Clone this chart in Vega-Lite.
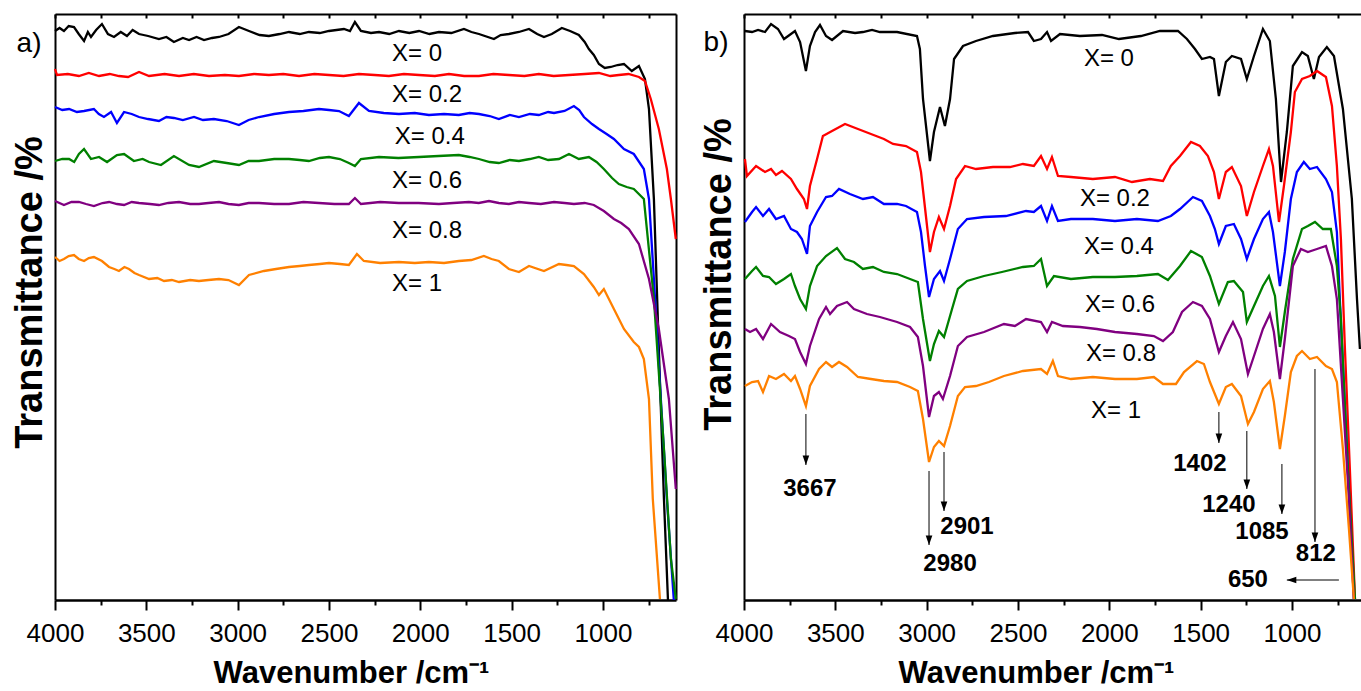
{
"$schema": "https://vega.github.io/schema/vega-lite/v6.json",
"padding": {"left": 11, "top": 13, "right": 0, "bottom": 0},
"spacing": 19,
"config": {"view": {"stroke": null}, "font": "Liberation Sans", "axis": {"grid": false, "domainColor": "black", "tickColor": "black", "labelColor": "black", "titleColor": "black"}},
"datasets": {
"a": [
{"s":"0","wn":4000,"t":569},{"s":"0","wn":3975,"t":572},{"s":"0","wn":3951,"t":569},{"s":"0","wn":3925,"t":574},{"s":"0","wn":3896,"t":573},{"s":"0","wn":3870,"t":566},{"s":"0","wn":3841,"t":559},{"s":"0","wn":3820,"t":568},{"s":"0","wn":3803,"t":563},{"s":"0","wn":3775,"t":570},{"s":"0","wn":3743,"t":576},{"s":"0","wn":3710,"t":566},{"s":"0","wn":3677,"t":563},{"s":"0","wn":3640,"t":568},{"s":"0","wn":3606,"t":564},{"s":"0","wn":3575,"t":570},{"s":"0","wn":3540,"t":566},{"s":"0","wn":3490,"t":564},{"s":"0","wn":3431,"t":561},{"s":"0","wn":3390,"t":563},{"s":"0","wn":3349,"t":558},{"s":"0","wn":3300,"t":562},{"s":"0","wn":3266,"t":560},{"s":"0","wn":3225,"t":563},{"s":"0","wn":3184,"t":560},{"s":"0","wn":3140,"t":562},{"s":"0","wn":3102,"t":563},{"s":"0","wn":3050,"t":566},{"s":"0","wn":2993,"t":573},{"s":"0","wn":2938,"t":569},{"s":"0","wn":2880,"t":565},{"s":"0","wn":2829,"t":564},{"s":"0","wn":2770,"t":566},{"s":"0","wn":2719,"t":568},{"s":"0","wn":2660,"t":566},{"s":"0","wn":2610,"t":568},{"s":"0","wn":2550,"t":567},{"s":"0","wn":2500,"t":569},{"s":"0","wn":2418,"t":571},{"s":"0","wn":2385,"t":569},{"s":"0","wn":2358,"t":578},{"s":"0","wn":2325,"t":569},{"s":"0","wn":2270,"t":567},{"s":"0","wn":2226,"t":568},{"s":"0","wn":2170,"t":566},{"s":"0","wn":2117,"t":569},{"s":"0","wn":2060,"t":567},{"s":"0","wn":2007,"t":569},{"s":"0","wn":1950,"t":566},{"s":"0","wn":1898,"t":568},{"s":"0","wn":1830,"t":567},{"s":"0","wn":1761,"t":571},{"s":"0","wn":1720,"t":568},{"s":"0","wn":1679,"t":566},{"s":"0","wn":1597,"t":561},{"s":"0","wn":1560,"t":565},{"s":"0","wn":1515,"t":566},{"s":"0","wn":1460,"t":568},{"s":"0","wn":1405,"t":571},{"s":"0","wn":1360,"t":566},{"s":"0","wn":1323,"t":563},{"s":"0","wn":1280,"t":566},{"s":"0","wn":1225,"t":572},{"s":"0","wn":1180,"t":569},{"s":"0","wn":1132,"t":565},{"s":"0","wn":1100,"t":558},{"s":"0","wn":1077,"t":551},{"s":"0","wn":1050,"t":545},{"s":"0","wn":1022,"t":536},{"s":"0","wn":990,"t":532},{"s":"0","wn":957,"t":533},{"s":"0","wn":920,"t":535},{"s":"0","wn":885,"t":536},{"s":"0","wn":842,"t":529},{"s":"0","wn":803,"t":534},{"s":"0","wn":770,"t":521},{"s":"0","wn":748,"t":491},{"s":"0","wn":721,"t":401},{"s":"0","wn":694,"t":251},{"s":"0","wn":666,"t":101},{"s":"0","wn":644,"t":0},
{"s":"0.2","wn":4000,"t":531},{"s":"0.2","wn":3989,"t":525},{"s":"0.2","wn":3930,"t":526},{"s":"0.2","wn":3869,"t":524},{"s":"0.2","wn":3815,"t":527},{"s":"0.2","wn":3759,"t":524},{"s":"0.2","wn":3700,"t":526},{"s":"0.2","wn":3650,"t":524},{"s":"0.2","wn":3600,"t":523},{"s":"0.2","wn":3540,"t":528},{"s":"0.2","wn":3485,"t":524},{"s":"0.2","wn":3400,"t":526},{"s":"0.2","wn":3321,"t":524},{"s":"0.2","wn":3240,"t":526},{"s":"0.2","wn":3157,"t":524},{"s":"0.2","wn":3070,"t":525},{"s":"0.2","wn":2993,"t":524},{"s":"0.2","wn":2910,"t":526},{"s":"0.2","wn":2829,"t":525},{"s":"0.2","wn":2750,"t":526},{"s":"0.2","wn":2664,"t":524},{"s":"0.2","wn":2580,"t":526},{"s":"0.2","wn":2500,"t":525},{"s":"0.2","wn":2420,"t":524},{"s":"0.2","wn":2336,"t":526},{"s":"0.2","wn":2250,"t":525},{"s":"0.2","wn":2172,"t":524},{"s":"0.2","wn":2090,"t":526},{"s":"0.2","wn":2007,"t":525},{"s":"0.2","wn":1920,"t":524},{"s":"0.2","wn":1843,"t":526},{"s":"0.2","wn":1760,"t":524},{"s":"0.2","wn":1679,"t":524},{"s":"0.2","wn":1600,"t":526},{"s":"0.2","wn":1515,"t":525},{"s":"0.2","wn":1430,"t":524},{"s":"0.2","wn":1351,"t":526},{"s":"0.2","wn":1270,"t":524},{"s":"0.2","wn":1186,"t":525},{"s":"0.2","wn":1100,"t":526},{"s":"0.2","wn":1022,"t":527},{"s":"0.2","wn":960,"t":524},{"s":"0.2","wn":913,"t":525},{"s":"0.2","wn":860,"t":526},{"s":"0.2","wn":803,"t":523},{"s":"0.2","wn":770,"t":519},{"s":"0.2","wn":738,"t":501},{"s":"0.2","wn":694,"t":471},{"s":"0.2","wn":650,"t":431},{"s":"0.2","wn":628,"t":401},{"s":"0.2","wn":601,"t":361},
{"s":"0.4","wn":4000,"t":493},{"s":"0.4","wn":3960,"t":490},{"s":"0.4","wn":3923,"t":491},{"s":"0.4","wn":3880,"t":488},{"s":"0.4","wn":3841,"t":489},{"s":"0.4","wn":3787,"t":491},{"s":"0.4","wn":3760,"t":486},{"s":"0.4","wn":3732,"t":483},{"s":"0.4","wn":3693,"t":488},{"s":"0.4","wn":3661,"t":477},{"s":"0.4","wn":3622,"t":488},{"s":"0.4","wn":3580,"t":486},{"s":"0.4","wn":3540,"t":483},{"s":"0.4","wn":3490,"t":481},{"s":"0.4","wn":3431,"t":479},{"s":"0.4","wn":3390,"t":483},{"s":"0.4","wn":3349,"t":482},{"s":"0.4","wn":3300,"t":480},{"s":"0.4","wn":3239,"t":483},{"s":"0.4","wn":3190,"t":480},{"s":"0.4","wn":3130,"t":481},{"s":"0.4","wn":3060,"t":479},{"s":"0.4","wn":2993,"t":475},{"s":"0.4","wn":2940,"t":480},{"s":"0.4","wn":2883,"t":483},{"s":"0.4","wn":2800,"t":486},{"s":"0.4","wn":2719,"t":488},{"s":"0.4","wn":2640,"t":489},{"s":"0.4","wn":2555,"t":491},{"s":"0.4","wn":2500,"t":490},{"s":"0.4","wn":2445,"t":489},{"s":"0.4","wn":2391,"t":484},{"s":"0.4","wn":2336,"t":497},{"s":"0.4","wn":2281,"t":489},{"s":"0.4","wn":2200,"t":487},{"s":"0.4","wn":2117,"t":486},{"s":"0.4","wn":2030,"t":487},{"s":"0.4","wn":1953,"t":485},{"s":"0.4","wn":1870,"t":486},{"s":"0.4","wn":1789,"t":485},{"s":"0.4","wn":1730,"t":487},{"s":"0.4","wn":1679,"t":486},{"s":"0.4","wn":1620,"t":484},{"s":"0.4","wn":1570,"t":481},{"s":"0.4","wn":1510,"t":485},{"s":"0.4","wn":1460,"t":483},{"s":"0.4","wn":1400,"t":486},{"s":"0.4","wn":1351,"t":485},{"s":"0.4","wn":1300,"t":488},{"s":"0.4","wn":1268,"t":487},{"s":"0.4","wn":1210,"t":489},{"s":"0.4","wn":1159,"t":494},{"s":"0.4","wn":1130,"t":490},{"s":"0.4","wn":1104,"t":483},{"s":"0.4","wn":1060,"t":476},{"s":"0.4","wn":1022,"t":471},{"s":"0.4","wn":980,"t":466},{"s":"0.4","wn":940,"t":461},{"s":"0.4","wn":885,"t":451},{"s":"0.4","wn":831,"t":446},{"s":"0.4","wn":776,"t":431},{"s":"0.4","wn":748,"t":401},{"s":"0.4","wn":721,"t":321},{"s":"0.4","wn":683,"t":201},{"s":"0.4","wn":650,"t":101},{"s":"0.4","wn":612,"t":0},
{"s":"0.6","wn":4000,"t":439},{"s":"0.6","wn":3960,"t":441},{"s":"0.6","wn":3923,"t":441},{"s":"0.6","wn":3895,"t":438},{"s":"0.6","wn":3869,"t":446},{"s":"0.6","wn":3841,"t":451},{"s":"0.6","wn":3803,"t":441},{"s":"0.6","wn":3759,"t":443},{"s":"0.6","wn":3715,"t":438},{"s":"0.6","wn":3661,"t":445},{"s":"0.6","wn":3622,"t":446},{"s":"0.6","wn":3568,"t":439},{"s":"0.6","wn":3520,"t":441},{"s":"0.6","wn":3485,"t":438},{"s":"0.6","wn":3420,"t":435},{"s":"0.6","wn":3349,"t":444},{"s":"0.6","wn":3266,"t":435},{"s":"0.6","wn":3212,"t":433},{"s":"0.6","wn":3130,"t":439},{"s":"0.6","wn":3060,"t":437},{"s":"0.6","wn":2993,"t":435},{"s":"0.6","wn":2940,"t":439},{"s":"0.6","wn":2883,"t":439},{"s":"0.6","wn":2800,"t":441},{"s":"0.6","wn":2719,"t":441},{"s":"0.6","wn":2660,"t":440},{"s":"0.6","wn":2610,"t":439},{"s":"0.6","wn":2550,"t":442},{"s":"0.6","wn":2500,"t":443},{"s":"0.6","wn":2440,"t":441},{"s":"0.6","wn":2391,"t":437},{"s":"0.6","wn":2358,"t":434},{"s":"0.6","wn":2325,"t":441},{"s":"0.6","wn":2226,"t":443},{"s":"0.6","wn":2120,"t":442},{"s":"0.6","wn":2007,"t":443},{"s":"0.6","wn":1900,"t":444},{"s":"0.6","wn":1789,"t":445},{"s":"0.6","wn":1730,"t":443},{"s":"0.6","wn":1679,"t":441},{"s":"0.6","wn":1620,"t":438},{"s":"0.6","wn":1570,"t":437},{"s":"0.6","wn":1510,"t":440},{"s":"0.6","wn":1460,"t":439},{"s":"0.6","wn":1400,"t":441},{"s":"0.6","wn":1351,"t":443},{"s":"0.6","wn":1300,"t":440},{"s":"0.6","wn":1241,"t":441},{"s":"0.6","wn":1186,"t":446},{"s":"0.6","wn":1132,"t":441},{"s":"0.6","wn":1077,"t":443},{"s":"0.6","wn":1035,"t":438},{"s":"0.6","wn":995,"t":431},{"s":"0.6","wn":950,"t":422},{"s":"0.6","wn":913,"t":416},{"s":"0.6","wn":870,"t":413},{"s":"0.6","wn":831,"t":411},{"s":"0.6","wn":776,"t":401},{"s":"0.6","wn":721,"t":301},{"s":"0.6","wn":666,"t":151},{"s":"0.6","wn":628,"t":41},{"s":"0.6","wn":601,"t":1},
{"s":"0.8","wn":4000,"t":399},{"s":"0.8","wn":3951,"t":395},{"s":"0.8","wn":3910,"t":398},{"s":"0.8","wn":3869,"t":398},{"s":"0.8","wn":3830,"t":396},{"s":"0.8","wn":3787,"t":394},{"s":"0.8","wn":3740,"t":397},{"s":"0.8","wn":3704,"t":398},{"s":"0.8","wn":3660,"t":396},{"s":"0.8","wn":3622,"t":395},{"s":"0.8","wn":3580,"t":398},{"s":"0.8","wn":3540,"t":397},{"s":"0.8","wn":3480,"t":396},{"s":"0.8","wn":3431,"t":395},{"s":"0.8","wn":3380,"t":397},{"s":"0.8","wn":3321,"t":398},{"s":"0.8","wn":3260,"t":396},{"s":"0.8","wn":3212,"t":396},{"s":"0.8","wn":3160,"t":397},{"s":"0.8","wn":3102,"t":398},{"s":"0.8","wn":3050,"t":396},{"s":"0.8","wn":2993,"t":395},{"s":"0.8","wn":2940,"t":397},{"s":"0.8","wn":2883,"t":397},{"s":"0.8","wn":2800,"t":396},{"s":"0.8","wn":2719,"t":396},{"s":"0.8","wn":2640,"t":398},{"s":"0.8","wn":2555,"t":397},{"s":"0.8","wn":2470,"t":396},{"s":"0.8","wn":2391,"t":396},{"s":"0.8","wn":2358,"t":402},{"s":"0.8","wn":2325,"t":396},{"s":"0.8","wn":2220,"t":398},{"s":"0.8","wn":2117,"t":397},{"s":"0.8","wn":2010,"t":397},{"s":"0.8","wn":1898,"t":396},{"s":"0.8","wn":1820,"t":397},{"s":"0.8","wn":1734,"t":398},{"s":"0.8","wn":1680,"t":397},{"s":"0.8","wn":1624,"t":399},{"s":"0.8","wn":1570,"t":397},{"s":"0.8","wn":1515,"t":396},{"s":"0.8","wn":1460,"t":398},{"s":"0.8","wn":1405,"t":397},{"s":"0.8","wn":1340,"t":396},{"s":"0.8","wn":1268,"t":398},{"s":"0.8","wn":1210,"t":397},{"s":"0.8","wn":1159,"t":396},{"s":"0.8","wn":1100,"t":397},{"s":"0.8","wn":1050,"t":395},{"s":"0.8","wn":995,"t":389},{"s":"0.8","wn":940,"t":381},{"s":"0.8","wn":900,"t":377},{"s":"0.8","wn":858,"t":371},{"s":"0.8","wn":803,"t":356},{"s":"0.8","wn":748,"t":321},{"s":"0.8","wn":694,"t":271},{"s":"0.8","wn":639,"t":201},{"s":"0.8","wn":601,"t":111},
{"s":"1","wn":4000,"t":343},{"s":"1","wn":3975,"t":339},{"s":"1","wn":3951,"t":341},{"s":"1","wn":3925,"t":344},{"s":"1","wn":3896,"t":345},{"s":"1","wn":3870,"t":341},{"s":"1","wn":3841,"t":339},{"s":"1","wn":3815,"t":342},{"s":"1","wn":3787,"t":343},{"s":"1","wn":3743,"t":339},{"s":"1","wn":3704,"t":333},{"s":"1","wn":3675,"t":331},{"s":"1","wn":3650,"t":329},{"s":"1","wn":3620,"t":333},{"s":"1","wn":3595,"t":331},{"s":"1","wn":3565,"t":327},{"s":"1","wn":3540,"t":325},{"s":"1","wn":3485,"t":321},{"s":"1","wn":3440,"t":322},{"s":"1","wn":3403,"t":319},{"s":"1","wn":3360,"t":320},{"s":"1","wn":3321,"t":318},{"s":"1","wn":3260,"t":320},{"s":"1","wn":3212,"t":319},{"s":"1","wn":3160,"t":320},{"s":"1","wn":3102,"t":321},{"s":"1","wn":3050,"t":320},{"s":"1","wn":2993,"t":315},{"s":"1","wn":2938,"t":325},{"s":"1","wn":2856,"t":329},{"s":"1","wn":2790,"t":331},{"s":"1","wn":2719,"t":333},{"s":"1","wn":2660,"t":334},{"s":"1","wn":2610,"t":335},{"s":"1","wn":2550,"t":336},{"s":"1","wn":2500,"t":337},{"s":"1","wn":2440,"t":336},{"s":"1","wn":2391,"t":335},{"s":"1","wn":2347,"t":346},{"s":"1","wn":2309,"t":339},{"s":"1","wn":2220,"t":337},{"s":"1","wn":2117,"t":338},{"s":"1","wn":2030,"t":337},{"s":"1","wn":1953,"t":338},{"s":"1","wn":1870,"t":337},{"s":"1","wn":1789,"t":339},{"s":"1","wn":1720,"t":340},{"s":"1","wn":1652,"t":344},{"s":"1","wn":1610,"t":341},{"s":"1","wn":1570,"t":339},{"s":"1","wn":1515,"t":331},{"s":"1","wn":1460,"t":328},{"s":"1","wn":1405,"t":334},{"s":"1","wn":1323,"t":329},{"s":"1","wn":1241,"t":336},{"s":"1","wn":1200,"t":335},{"s":"1","wn":1159,"t":334},{"s":"1","wn":1104,"t":326},{"s":"1","wn":1050,"t":313},{"s":"1","wn":1022,"t":305},{"s":"1","wn":995,"t":311},{"s":"1","wn":940,"t":291},{"s":"1","wn":885,"t":271},{"s":"1","wn":831,"t":258},{"s":"1","wn":803,"t":253},{"s":"1","wn":776,"t":241},{"s":"1","wn":748,"t":201},{"s":"1","wn":727,"t":101},{"s":"1","wn":688,"t":1}
],
"b": [
{"s":"0","wn":3995,"t":569},{"s":"0","wn":3956,"t":568},{"s":"0","wn":3923,"t":570},{"s":"0","wn":3885,"t":568},{"s":"0","wn":3852,"t":576},{"s":"0","wn":3814,"t":571},{"s":"0","wn":3781,"t":561},{"s":"0","wn":3743,"t":566},{"s":"0","wn":3721,"t":569},{"s":"0","wn":3693,"t":558},{"s":"0","wn":3661,"t":529},{"s":"0","wn":3639,"t":554},{"s":"0","wn":3611,"t":568},{"s":"0","wn":3584,"t":575},{"s":"0","wn":3551,"t":564},{"s":"0","wn":3518,"t":560},{"s":"0","wn":3458,"t":569},{"s":"0","wn":3392,"t":567},{"s":"0","wn":3349,"t":568},{"s":"0","wn":3299,"t":570},{"s":"0","wn":3256,"t":568},{"s":"0","wn":3162,"t":568},{"s":"0","wn":3053,"t":564},{"s":"0","wn":3037,"t":551},{"s":"0","wn":3020,"t":501},{"s":"0","wn":2982,"t":439},{"s":"0","wn":2960,"t":468},{"s":"0","wn":2927,"t":493},{"s":"0","wn":2900,"t":474},{"s":"0","wn":2872,"t":501},{"s":"0","wn":2850,"t":541},{"s":"0","wn":2801,"t":554},{"s":"0","wn":2730,"t":559},{"s":"0","wn":2637,"t":564},{"s":"0","wn":2517,"t":567},{"s":"0","wn":2445,"t":568},{"s":"0","wn":2413,"t":559},{"s":"0","wn":2374,"t":561},{"s":"0","wn":2341,"t":568},{"s":"0","wn":2319,"t":559},{"s":"0","wn":2270,"t":566},{"s":"0","wn":2161,"t":564},{"s":"0","wn":2040,"t":565},{"s":"0","wn":1947,"t":561},{"s":"0","wn":1827,"t":564},{"s":"0","wn":1723,"t":569},{"s":"0","wn":1624,"t":569},{"s":"0","wn":1575,"t":561},{"s":"0","wn":1531,"t":551},{"s":"0","wn":1493,"t":541},{"s":"0","wn":1449,"t":543},{"s":"0","wn":1427,"t":541},{"s":"0","wn":1400,"t":504},{"s":"0","wn":1362,"t":538},{"s":"0","wn":1329,"t":544},{"s":"0","wn":1279,"t":541},{"s":"0","wn":1247,"t":521},{"s":"0","wn":1208,"t":544},{"s":"0","wn":1159,"t":571},{"s":"0","wn":1121,"t":559},{"s":"0","wn":1088,"t":501},{"s":"0","wn":1060,"t":418},{"s":"0","wn":1028,"t":468},{"s":"0","wn":995,"t":534},{"s":"0","wn":945,"t":548},{"s":"0","wn":913,"t":544},{"s":"0","wn":880,"t":521},{"s":"0","wn":852,"t":543},{"s":"0","wn":809,"t":553},{"s":"0","wn":770,"t":544},{"s":"0","wn":721,"t":491},{"s":"0","wn":672,"t":401},{"s":"0","wn":644,"t":301},{"s":"0","wn":628,"t":251},
{"s":"0.2","wn":3995,"t":441},{"s":"0.2","wn":3984,"t":424},{"s":"0.2","wn":3934,"t":434},{"s":"0.2","wn":3885,"t":428},{"s":"0.2","wn":3852,"t":431},{"s":"0.2","wn":3825,"t":425},{"s":"0.2","wn":3792,"t":429},{"s":"0.2","wn":3743,"t":421},{"s":"0.2","wn":3710,"t":411},{"s":"0.2","wn":3672,"t":401},{"s":"0.2","wn":3655,"t":391},{"s":"0.2","wn":3639,"t":414},{"s":"0.2","wn":3600,"t":441},{"s":"0.2","wn":3568,"t":464},{"s":"0.2","wn":3518,"t":469},{"s":"0.2","wn":3447,"t":476},{"s":"0.2","wn":3376,"t":471},{"s":"0.2","wn":3305,"t":466},{"s":"0.2","wn":3234,"t":461},{"s":"0.2","wn":3184,"t":456},{"s":"0.2","wn":3113,"t":454},{"s":"0.2","wn":3053,"t":448},{"s":"0.2","wn":3031,"t":428},{"s":"0.2","wn":3004,"t":384},{"s":"0.2","wn":2982,"t":348},{"s":"0.2","wn":2960,"t":368},{"s":"0.2","wn":2933,"t":383},{"s":"0.2","wn":2905,"t":371},{"s":"0.2","wn":2872,"t":394},{"s":"0.2","wn":2839,"t":421},{"s":"0.2","wn":2790,"t":434},{"s":"0.2","wn":2730,"t":431},{"s":"0.2","wn":2637,"t":433},{"s":"0.2","wn":2544,"t":433},{"s":"0.2","wn":2473,"t":436},{"s":"0.2","wn":2413,"t":434},{"s":"0.2","wn":2374,"t":444},{"s":"0.2","wn":2341,"t":431},{"s":"0.2","wn":2314,"t":443},{"s":"0.2","wn":2281,"t":424},{"s":"0.2","wn":2210,"t":423},{"s":"0.2","wn":2090,"t":421},{"s":"0.2","wn":1969,"t":423},{"s":"0.2","wn":1876,"t":418},{"s":"0.2","wn":1778,"t":421},{"s":"0.2","wn":1706,"t":419},{"s":"0.2","wn":1663,"t":434},{"s":"0.2","wn":1613,"t":444},{"s":"0.2","wn":1553,"t":458},{"s":"0.2","wn":1504,"t":454},{"s":"0.2","wn":1460,"t":444},{"s":"0.2","wn":1427,"t":428},{"s":"0.2","wn":1400,"t":401},{"s":"0.2","wn":1362,"t":428},{"s":"0.2","wn":1329,"t":433},{"s":"0.2","wn":1279,"t":414},{"s":"0.2","wn":1247,"t":384},{"s":"0.2","wn":1208,"t":408},{"s":"0.2","wn":1159,"t":434},{"s":"0.2","wn":1126,"t":451},{"s":"0.2","wn":1104,"t":434},{"s":"0.2","wn":1071,"t":378},{"s":"0.2","wn":1044,"t":414},{"s":"0.2","wn":1006,"t":468},{"s":"0.2","wn":984,"t":508},{"s":"0.2","wn":945,"t":521},{"s":"0.2","wn":902,"t":524},{"s":"0.2","wn":863,"t":529},{"s":"0.2","wn":814,"t":523},{"s":"0.2","wn":781,"t":494},{"s":"0.2","wn":754,"t":434},{"s":"0.2","wn":732,"t":361},{"s":"0.2","wn":710,"t":251},{"s":"0.2","wn":683,"t":131},{"s":"0.2","wn":655,"t":1},
{"s":"0.4","wn":3995,"t":378},{"s":"0.4","wn":3956,"t":388},{"s":"0.4","wn":3934,"t":393},{"s":"0.4","wn":3896,"t":384},{"s":"0.4","wn":3863,"t":391},{"s":"0.4","wn":3825,"t":381},{"s":"0.4","wn":3781,"t":384},{"s":"0.4","wn":3743,"t":371},{"s":"0.4","wn":3710,"t":368},{"s":"0.4","wn":3683,"t":361},{"s":"0.4","wn":3655,"t":346},{"s":"0.4","wn":3639,"t":374},{"s":"0.4","wn":3600,"t":388},{"s":"0.4","wn":3551,"t":403},{"s":"0.4","wn":3518,"t":404},{"s":"0.4","wn":3480,"t":411},{"s":"0.4","wn":3420,"t":406},{"s":"0.4","wn":3349,"t":401},{"s":"0.4","wn":3294,"t":403},{"s":"0.4","wn":3234,"t":396},{"s":"0.4","wn":3162,"t":396},{"s":"0.4","wn":3113,"t":394},{"s":"0.4","wn":3053,"t":388},{"s":"0.4","wn":3031,"t":368},{"s":"0.4","wn":3009,"t":334},{"s":"0.4","wn":2987,"t":303},{"s":"0.4","wn":2960,"t":321},{"s":"0.4","wn":2927,"t":329},{"s":"0.4","wn":2905,"t":319},{"s":"0.4","wn":2872,"t":341},{"s":"0.4","wn":2829,"t":371},{"s":"0.4","wn":2779,"t":381},{"s":"0.4","wn":2686,"t":383},{"s":"0.4","wn":2566,"t":384},{"s":"0.4","wn":2456,"t":389},{"s":"0.4","wn":2413,"t":388},{"s":"0.4","wn":2374,"t":394},{"s":"0.4","wn":2341,"t":379},{"s":"0.4","wn":2314,"t":394},{"s":"0.4","wn":2281,"t":379},{"s":"0.4","wn":2210,"t":381},{"s":"0.4","wn":2090,"t":381},{"s":"0.4","wn":1969,"t":379},{"s":"0.4","wn":1849,"t":381},{"s":"0.4","wn":1734,"t":379},{"s":"0.4","wn":1663,"t":384},{"s":"0.4","wn":1613,"t":391},{"s":"0.4","wn":1542,"t":403},{"s":"0.4","wn":1493,"t":399},{"s":"0.4","wn":1449,"t":384},{"s":"0.4","wn":1422,"t":371},{"s":"0.4","wn":1400,"t":356},{"s":"0.4","wn":1362,"t":374},{"s":"0.4","wn":1318,"t":376},{"s":"0.4","wn":1279,"t":361},{"s":"0.4","wn":1247,"t":341},{"s":"0.4","wn":1208,"t":361},{"s":"0.4","wn":1159,"t":381},{"s":"0.4","wn":1126,"t":388},{"s":"0.4","wn":1104,"t":368},{"s":"0.4","wn":1066,"t":314},{"s":"0.4","wn":1039,"t":348},{"s":"0.4","wn":1006,"t":401},{"s":"0.4","wn":973,"t":428},{"s":"0.4","wn":935,"t":438},{"s":"0.4","wn":902,"t":431},{"s":"0.4","wn":863,"t":433},{"s":"0.4","wn":814,"t":421},{"s":"0.4","wn":781,"t":408},{"s":"0.4","wn":754,"t":368},{"s":"0.4","wn":738,"t":301},{"s":"0.4","wn":699,"t":151},{"s":"0.4","wn":661,"t":1},
{"s":"0.6","wn":3995,"t":321},{"s":"0.6","wn":3956,"t":329},{"s":"0.6","wn":3934,"t":333},{"s":"0.6","wn":3896,"t":324},{"s":"0.6","wn":3863,"t":323},{"s":"0.6","wn":3825,"t":316},{"s":"0.6","wn":3781,"t":321},{"s":"0.6","wn":3743,"t":326},{"s":"0.6","wn":3721,"t":314},{"s":"0.6","wn":3693,"t":301},{"s":"0.6","wn":3661,"t":291},{"s":"0.6","wn":3639,"t":314},{"s":"0.6","wn":3600,"t":334},{"s":"0.6","wn":3551,"t":344},{"s":"0.6","wn":3491,"t":352},{"s":"0.6","wn":3447,"t":341},{"s":"0.6","wn":3398,"t":338},{"s":"0.6","wn":3349,"t":331},{"s":"0.6","wn":3294,"t":333},{"s":"0.6","wn":3234,"t":328},{"s":"0.6","wn":3162,"t":326},{"s":"0.6","wn":3091,"t":321},{"s":"0.6","wn":3048,"t":318},{"s":"0.6","wn":3020,"t":281},{"s":"0.6","wn":2982,"t":239},{"s":"0.6","wn":2960,"t":256},{"s":"0.6","wn":2933,"t":269},{"s":"0.6","wn":2905,"t":263},{"s":"0.6","wn":2861,"t":291},{"s":"0.6","wn":2829,"t":311},{"s":"0.6","wn":2779,"t":319},{"s":"0.6","wn":2686,"t":324},{"s":"0.6","wn":2588,"t":328},{"s":"0.6","wn":2473,"t":333},{"s":"0.6","wn":2413,"t":334},{"s":"0.6","wn":2374,"t":341},{"s":"0.6","wn":2341,"t":314},{"s":"0.6","wn":2303,"t":324},{"s":"0.6","wn":2210,"t":321},{"s":"0.6","wn":2090,"t":323},{"s":"0.6","wn":1969,"t":323},{"s":"0.6","wn":1849,"t":324},{"s":"0.6","wn":1734,"t":326},{"s":"0.6","wn":1679,"t":320},{"s":"0.6","wn":1613,"t":334},{"s":"0.6","wn":1553,"t":349},{"s":"0.6","wn":1493,"t":343},{"s":"0.6","wn":1449,"t":324},{"s":"0.6","wn":1400,"t":296},{"s":"0.6","wn":1351,"t":318},{"s":"0.6","wn":1318,"t":319},{"s":"0.6","wn":1268,"t":308},{"s":"0.6","wn":1247,"t":278},{"s":"0.6","wn":1208,"t":294},{"s":"0.6","wn":1159,"t":314},{"s":"0.6","wn":1126,"t":324},{"s":"0.6","wn":1093,"t":304},{"s":"0.6","wn":1066,"t":253},{"s":"0.6","wn":1039,"t":288},{"s":"0.6","wn":995,"t":341},{"s":"0.6","wn":945,"t":371},{"s":"0.6","wn":913,"t":374},{"s":"0.6","wn":874,"t":378},{"s":"0.6","wn":831,"t":371},{"s":"0.6","wn":787,"t":371},{"s":"0.6","wn":754,"t":334},{"s":"0.6","wn":732,"t":281},{"s":"0.6","wn":694,"t":131},{"s":"0.6","wn":655,"t":1},
{"s":"0.8","wn":3995,"t":271},{"s":"0.8","wn":3967,"t":268},{"s":"0.8","wn":3934,"t":271},{"s":"0.8","wn":3896,"t":261},{"s":"0.8","wn":3852,"t":276},{"s":"0.8","wn":3803,"t":268},{"s":"0.8","wn":3754,"t":264},{"s":"0.8","wn":3721,"t":261},{"s":"0.8","wn":3693,"t":248},{"s":"0.8","wn":3661,"t":236},{"s":"0.8","wn":3639,"t":254},{"s":"0.8","wn":3589,"t":281},{"s":"0.8","wn":3551,"t":293},{"s":"0.8","wn":3529,"t":286},{"s":"0.8","wn":3491,"t":294},{"s":"0.8","wn":3436,"t":298},{"s":"0.8","wn":3398,"t":291},{"s":"0.8","wn":3327,"t":286},{"s":"0.8","wn":3256,"t":283},{"s":"0.8","wn":3162,"t":278},{"s":"0.8","wn":3091,"t":273},{"s":"0.8","wn":3048,"t":263},{"s":"0.8","wn":3020,"t":234},{"s":"0.8","wn":2987,"t":183},{"s":"0.8","wn":2960,"t":204},{"s":"0.8","wn":2933,"t":208},{"s":"0.8","wn":2911,"t":201},{"s":"0.8","wn":2872,"t":224},{"s":"0.8","wn":2829,"t":254},{"s":"0.8","wn":2779,"t":263},{"s":"0.8","wn":2686,"t":268},{"s":"0.8","wn":2577,"t":276},{"s":"0.8","wn":2517,"t":274},{"s":"0.8","wn":2456,"t":281},{"s":"0.8","wn":2374,"t":278},{"s":"0.8","wn":2341,"t":268},{"s":"0.8","wn":2314,"t":278},{"s":"0.8","wn":2254,"t":274},{"s":"0.8","wn":2161,"t":273},{"s":"0.8","wn":2068,"t":271},{"s":"0.8","wn":1969,"t":268},{"s":"0.8","wn":1849,"t":266},{"s":"0.8","wn":1756,"t":264},{"s":"0.8","wn":1706,"t":259},{"s":"0.8","wn":1652,"t":268},{"s":"0.8","wn":1602,"t":288},{"s":"0.8","wn":1542,"t":298},{"s":"0.8","wn":1493,"t":294},{"s":"0.8","wn":1449,"t":281},{"s":"0.8","wn":1400,"t":248},{"s":"0.8","wn":1362,"t":264},{"s":"0.8","wn":1323,"t":278},{"s":"0.8","wn":1279,"t":261},{"s":"0.8","wn":1241,"t":226},{"s":"0.8","wn":1208,"t":244},{"s":"0.8","wn":1159,"t":271},{"s":"0.8","wn":1121,"t":286},{"s":"0.8","wn":1099,"t":268},{"s":"0.8","wn":1066,"t":221},{"s":"0.8","wn":1039,"t":261},{"s":"0.8","wn":995,"t":334},{"s":"0.8","wn":951,"t":351},{"s":"0.8","wn":913,"t":348},{"s":"0.8","wn":863,"t":351},{"s":"0.8","wn":814,"t":354},{"s":"0.8","wn":781,"t":334},{"s":"0.8","wn":754,"t":301},{"s":"0.8","wn":721,"t":201},{"s":"0.8","wn":688,"t":101},{"s":"0.8","wn":661,"t":1},
{"s":"1","wn":3995,"t":214},{"s":"1","wn":3956,"t":218},{"s":"1","wn":3923,"t":219},{"s":"1","wn":3896,"t":208},{"s":"1","wn":3863,"t":224},{"s":"1","wn":3825,"t":221},{"s":"1","wn":3781,"t":226},{"s":"1","wn":3743,"t":219},{"s":"1","wn":3721,"t":224},{"s":"1","wn":3693,"t":211},{"s":"1","wn":3661,"t":194},{"s":"1","wn":3639,"t":214},{"s":"1","wn":3589,"t":231},{"s":"1","wn":3551,"t":238},{"s":"1","wn":3518,"t":233},{"s":"1","wn":3480,"t":238},{"s":"1","wn":3436,"t":233},{"s":"1","wn":3376,"t":223},{"s":"1","wn":3305,"t":221},{"s":"1","wn":3234,"t":219},{"s":"1","wn":3162,"t":218},{"s":"1","wn":3091,"t":213},{"s":"1","wn":3048,"t":209},{"s":"1","wn":3020,"t":181},{"s":"1","wn":2987,"t":138},{"s":"1","wn":2960,"t":153},{"s":"1","wn":2933,"t":159},{"s":"1","wn":2905,"t":154},{"s":"1","wn":2872,"t":174},{"s":"1","wn":2829,"t":204},{"s":"1","wn":2790,"t":213},{"s":"1","wn":2730,"t":214},{"s":"1","wn":2659,"t":218},{"s":"1","wn":2577,"t":224},{"s":"1","wn":2473,"t":229},{"s":"1","wn":2374,"t":231},{"s":"1","wn":2341,"t":226},{"s":"1","wn":2309,"t":239},{"s":"1","wn":2281,"t":224},{"s":"1","wn":2210,"t":221},{"s":"1","wn":2090,"t":223},{"s":"1","wn":1969,"t":221},{"s":"1","wn":1849,"t":221},{"s":"1","wn":1756,"t":223},{"s":"1","wn":1706,"t":216},{"s":"1","wn":1635,"t":216},{"s":"1","wn":1591,"t":228},{"s":"1","wn":1520,"t":239},{"s":"1","wn":1482,"t":236},{"s":"1","wn":1449,"t":218},{"s":"1","wn":1400,"t":196},{"s":"1","wn":1362,"t":213},{"s":"1","wn":1329,"t":216},{"s":"1","wn":1279,"t":204},{"s":"1","wn":1241,"t":176},{"s":"1","wn":1208,"t":188},{"s":"1","wn":1159,"t":211},{"s":"1","wn":1121,"t":219},{"s":"1","wn":1099,"t":198},{"s":"1","wn":1066,"t":151},{"s":"1","wn":1039,"t":184},{"s":"1","wn":1006,"t":228},{"s":"1","wn":973,"t":244},{"s":"1","wn":945,"t":249},{"s":"1","wn":902,"t":241},{"s":"1","wn":863,"t":243},{"s":"1","wn":814,"t":234},{"s":"1","wn":781,"t":231},{"s":"1","wn":754,"t":218},{"s":"1","wn":721,"t":151},{"s":"1","wn":688,"t":71},{"s":"1","wn":661,"t":1}
],
"la": [
{"wn":2155,"t":546,"label":"X= 0"},{"wn":2155,"t":505,"label":"X= 0.2"},{"wn":2140,"t":463,"label":"X= 0.4"},{"wn":2155,"t":419,"label":"X= 0.6"},{"wn":2155,"t":369,"label":"X= 0.8"},{"wn":2155,"t":316,"label":"X= 1"}
],
"lb": [
{"wn":2139,"t":541,"label":"X= 0"},{"wn":2161,"t":401,"label":"X= 0.2"},{"wn":2139,"t":353,"label":"X= 0.4"},{"wn":2133,"t":295,"label":"X= 0.6"},{"wn":2128,"t":246,"label":"X= 0.8"},{"wn":2100,"t":189,"label":"X= 1"}
],
"arr": [
{"wn":3661,"y1":186,"y2":135},{"wn":2987,"y1":129,"y2":55},{"wn":2905,"y1":148,"y2":89},{"wn":1400,"y1":188,"y2":157},{"wn":1247,"y1":169,"y2":111},{"wn":1055,"y1":136,"y2":86},{"wn":874,"y1":231,"y2":58}
],
"harr": [{"wn1":743,"wn2":1028,"t":20}],
"hl": [{"wn":1028,"t":20}],
"peaks": [
{"wn":3639,"t":111,"label":"3667"},{"wn":2872,"t":36,"label":"2980"},{"wn":2779,"t":73,"label":"2901"},{"wn":1504,"t":136,"label":"1402"},{"wn":1345,"t":95,"label":"1240"},{"wn":1164,"t":68,"label":"1085"},{"wn":869,"t":46,"label":"812"},{"wn":1241,"t":20,"label":"650"}
]
},
"hconcat": [
{
"width": 621, "height": 586,
"layer": [
{"data": {"name": "a"}, "mark": {"type": "line", "strokeWidth": 2.3},
 "encoding": {
  "x": {"field": "wn", "type": "quantitative", "scale": {"domain": [600, 4000], "reverse": true, "nice": false, "zero": false},
   "axis": {"orient": "bottom", "values": [4000, 3500, 3000, 2500, 2000, 1500, 1000], "format": "d", "tickSize": 10, "tickWidth": 2, "domainWidth": 2.5, "labelFontSize": 26, "labelFlush": false, "labelBaseline": "alphabetic", "labelPadding": 31, "title": "Wavenumber /cm⁻¹", "titleFontSize": 31, "titleFontWeight": "bold", "titleBaseline": "alphabetic", "titleY": 82, "titleX": 296}},
  "y": {"field": "t", "type": "quantitative", "scale": {"domain": [0, 586], "nice": false, "zero": false},
   "axis": {"orient": "left", "ticks": false, "labels": false, "domainWidth": 2, "title": "Transmittance /%", "titleFontSize": 38, "titleFontWeight": "bold", "titlePadding": 14, "titleBaseline": "alphabetic", "titleY": 278}},
  "color": {"field": "s", "type": "nominal", "scale": {"domain": ["0", "0.2", "0.4", "0.6", "0.8", "1"], "range": ["#000000", "#ff0000", "#0000ff", "#008000", "#800080", "#ff8000"]}, "legend": null}
 }},
{"data": {"name": "la"}, "mark": {"type": "text", "align": "left", "baseline": "middle", "fontSize": 24, "color": "black"},
 "encoding": {
  "x": {"field": "wn", "type": "quantitative", "axis": {"orient": "top", "values": [4000, 3750, 3500, 3250, 3000, 2750, 2500, 2250, 2000, 1750, 1500, 1250, 1000, 750], "tickSize": -4, "tickWidth": 2, "labels": false, "domainWidth": 2, "title": null}},
  "y": {"field": "t", "type": "quantitative", "axis": {"orient": "right", "ticks": false, "labels": false, "domainWidth": 2, "title": null}},
  "text": {"field": "label"}
 }},
{"data": {"values": [{"wn": 4142, "t": 556, "label": "a)"}]}, "mark": {"type": "text", "align": "center", "baseline": "middle", "fontSize": 28, "color": "black"},
 "encoding": {
  "x": {"field": "wn", "type": "quantitative", "axis": {"orient": "bottom", "values": [3750, 3250, 2750, 2250, 1750, 1250, 750], "tickSize": 5, "tickWidth": 2, "labels": false, "domain": false, "title": null}},
  "y": {"field": "t", "type": "quantitative", "axis": null},
  "text": {"field": "label"}
 }}
],
"resolve": {"axis": {"x": "independent", "y": "independent"}}
},
{
"width": 617, "height": 586,
"layer": [
{"data": {"name": "b"}, "mark": {"type": "line", "strokeWidth": 2.3},
 "encoding": {
  "x": {"field": "wn", "type": "quantitative", "scale": {"domain": [622, 4000], "reverse": true, "nice": false, "zero": false},
   "axis": {"orient": "bottom", "values": [4000, 3500, 3000, 2500, 2000, 1500, 1000], "format": "d", "tickSize": 10, "tickWidth": 2, "domainWidth": 2.5, "labelFontSize": 26, "labelFlush": false, "labelBaseline": "alphabetic", "labelPadding": 31, "title": "Wavenumber /cm⁻¹", "titleFontSize": 31, "titleFontWeight": "bold", "titleBaseline": "alphabetic", "titleY": 82, "titleX": 292}},
  "y": {"field": "t", "type": "quantitative", "scale": {"domain": [0, 586], "nice": false, "zero": false},
   "axis": {"orient": "left", "ticks": false, "labels": false, "domainWidth": 2, "title": "Transmittance /%", "titleFontSize": 38, "titleFontWeight": "bold", "titlePadding": 14, "titleBaseline": "alphabetic", "titleY": 260}},
  "color": {"field": "s", "type": "nominal", "scale": {"domain": ["0", "0.2", "0.4", "0.6", "0.8", "1"], "range": ["#000000", "#ff0000", "#0000ff", "#008000", "#800080", "#ff8000"]}, "legend": null}
 }},
{"data": {"name": "lb"}, "mark": {"type": "text", "align": "left", "baseline": "middle", "fontSize": 24, "color": "black"},
 "encoding": {
  "x": {"field": "wn", "type": "quantitative", "axis": {"orient": "top", "values": [4000, 3750, 3500, 3250, 3000, 2750, 2500, 2250, 2000, 1750, 1500, 1250, 1000, 750], "tickSize": -4, "tickWidth": 2, "labels": false, "domainWidth": 2, "title": null}},
  "y": {"field": "t", "type": "quantitative", "axis": null},
  "text": {"field": "label"}
 }},
{"data": {"values": [{"wn": 4153, "t": 557, "label": "b)"}]}, "mark": {"type": "text", "align": "center", "baseline": "middle", "fontSize": 28, "color": "black"},
 "encoding": {
  "x": {"field": "wn", "type": "quantitative", "axis": {"orient": "bottom", "values": [3750, 3250, 2750, 2250, 1750, 1250, 750], "tickSize": 5, "tickWidth": 2, "labels": false, "domain": false, "title": null}},
  "y": {"field": "t", "type": "quantitative", "axis": null},
  "text": {"field": "label"}
 }},
{"data": {"name": "arr"}, "mark": {"type": "rule", "color": "black", "strokeWidth": 1},
 "encoding": {
  "x": {"field": "wn", "type": "quantitative", "axis": null},
  "y": {"field": "y1", "type": "quantitative", "axis": null},
  "y2": {"field": "y2"}
 }},
{"data": {"name": "arr"}, "mark": {"type": "point", "shape": "M0,0L-0.35,-1L0.35,-1Z", "filled": true, "color": "black", "size": 360, "opacity": 1},
 "encoding": {
  "x": {"field": "wn", "type": "quantitative", "axis": null},
  "y": {"field": "y2", "type": "quantitative", "axis": null}
 }},
{"data": {"name": "harr"}, "mark": {"type": "rule", "color": "black", "strokeWidth": 1},
 "encoding": {
  "x": {"field": "wn1", "type": "quantitative", "axis": null},
  "x2": {"field": "wn2"},
  "y": {"field": "t", "type": "quantitative", "axis": null}
 }},
{"data": {"name": "hl"}, "mark": {"type": "point", "shape": "M0,0L1,-0.35L1,0.35Z", "filled": true, "color": "black", "size": 360, "opacity": 1},
 "encoding": {
  "x": {"field": "wn", "type": "quantitative", "axis": null},
  "y": {"field": "t", "type": "quantitative", "axis": null}
 }},
{"data": {"name": "peaks"}, "mark": {"type": "text", "align": "center", "baseline": "middle", "fontSize": 24, "fontWeight": "bold", "color": "black"},
 "encoding": {
  "x": {"field": "wn", "type": "quantitative", "axis": null},
  "y": {"field": "t", "type": "quantitative", "axis": null},
  "text": {"field": "label"}
 }}
],
"resolve": {"axis": {"x": "independent", "y": "independent"}}
}
]
}
